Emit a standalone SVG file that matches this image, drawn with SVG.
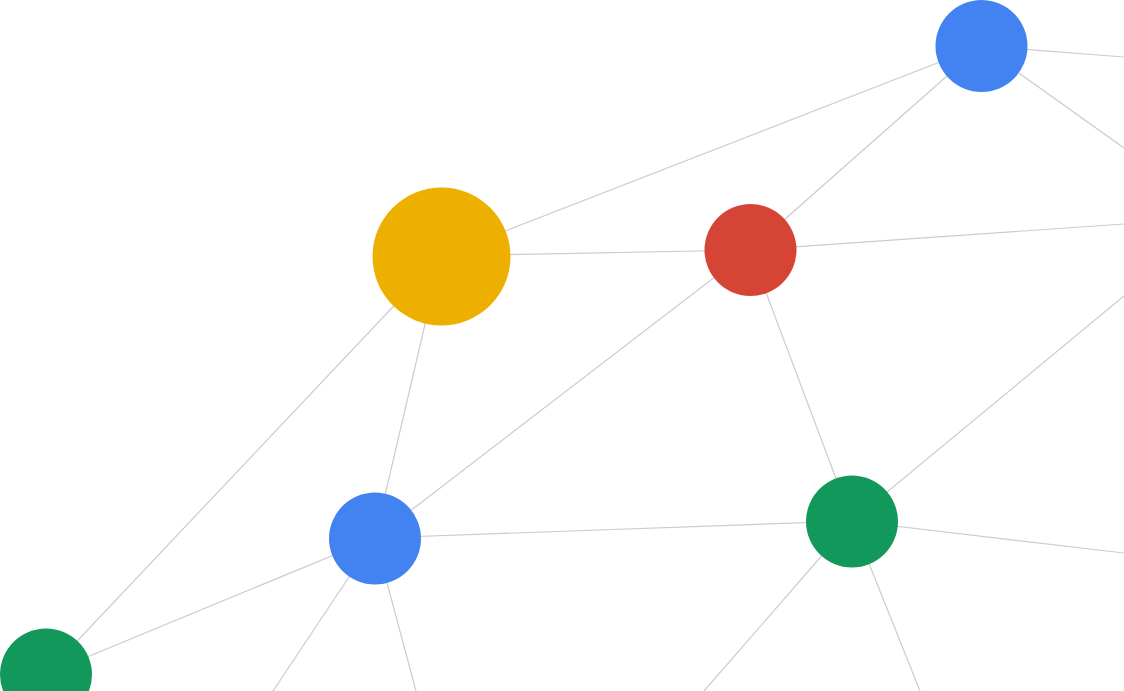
<svg xmlns="http://www.w3.org/2000/svg" width="1124" height="691" viewBox="0 0 1124 691">
<style>
.e{stroke:#cccccc;stroke-width:1.2;fill:none}
.b{fill:#4382F1}.r{fill:#D64436}.y{fill:#EEB000}.g{fill:#11985A}
</style>
<rect width="1124" height="691" fill="#ffffff"/>
<g id="connectors">
<line class="e" x1="981" y1="46" x2="1124" y2="57"/>
<line class="e" x1="981" y1="46" x2="1124" y2="148"/>
<line class="e" x1="981" y1="46" x2="441" y2="256"/>
<line class="e" x1="981" y1="46" x2="750" y2="250"/>
<line class="e" x1="441" y1="256" x2="750" y2="250"/>
<line class="e" x1="750" y1="250" x2="1124" y2="224"/>
<line class="e" x1="750" y1="250" x2="375" y2="538"/>
<line class="e" x1="750" y1="250" x2="852" y2="521"/>
<line class="e" x1="441" y1="256" x2="375" y2="538"/>
<line class="e" x1="441" y1="256" x2="46" y2="674"/>
<line class="e" x1="1124" y1="296" x2="852" y2="521"/>
<line class="e" x1="852" y1="521" x2="1124" y2="553"/>
<line class="e" x1="375" y1="538" x2="852" y2="521"/>
<line class="e" x1="375" y1="538" x2="46" y2="674"/>
<line class="e" x1="375" y1="538" x2="273" y2="691"/>
<line class="e" x1="375" y1="538" x2="416" y2="691"/>
<line class="e" x1="852" y1="521" x2="704" y2="691"/>
<line class="e" x1="852" y1="521" x2="920" y2="691"/>
</g>
<g id="n-blue-top"><circle class="b" cx="981.5" cy="46" r="46"/></g>
<g id="n-yellow"><circle class="y" cx="441.5" cy="256.5" r="69"/></g>
<g id="n-red"><circle class="r" cx="750.5" cy="250" r="46"/></g>
<g id="n-blue-mid"><circle class="b" cx="375" cy="538.5" r="46"/></g>
<g id="n-green-right"><circle class="g" cx="852" cy="521.5" r="46"/></g>
<g id="n-green-left"><circle class="g" cx="46" cy="674.5" r="46"/></g>
</svg>
